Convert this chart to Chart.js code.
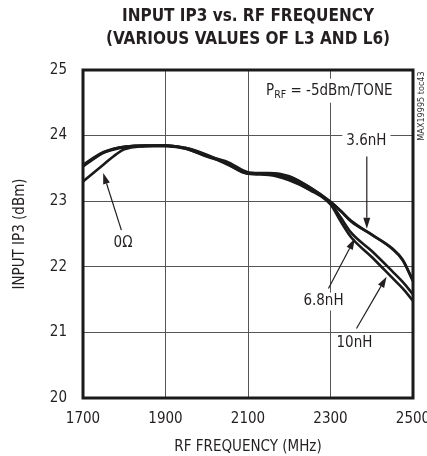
<!DOCTYPE html>
<html><head><meta charset="utf-8">
<script src="https://cdn.jsdelivr.net/npm/chart.js@4.4.1/dist/chart.umd.min.js"></script>
<style>html,body{margin:0;padding:0;background:#fff}</style>
</head><body>
<canvas id="c" width="427" height="456"></canvas>
<script>
// ---- data ----
const FREQ_MHZ = [1700,1725,1750,1775,1800,1850,1900,1950,2000,2050,2100,2150,2200,2250,2300,2325,2350,2400,2450,2475,2500];
const IP3_0OHM = [23.30,23.43,23.56,23.69,23.79,23.84,23.85,23.81,23.71,23.57,23.42,23.42,23.37,23.21,22.99,22.85,22.69,22.49,22.28,22.11,21.79];
const IP3_3_6NH = [23.55,23.66,23.75,23.80,23.83,23.85,23.85,23.81,23.70,23.56,23.43,23.43,23.38,23.21,22.99,22.85,22.70,22.49,22.27,22.10,21.78];
const IP3_6_8NH = [23.54,23.65,23.74,23.80,23.83,23.85,23.85,23.80,23.69,23.60,23.44,23.41,23.34,23.19,22.97,22.75,22.52,22.24,21.93,21.77,21.58];
const IP3_10NH = [23.53,23.64,23.74,23.79,23.82,23.84,23.84,23.80,23.68,23.58,23.42,23.40,23.32,23.17,22.95,22.69,22.45,22.15,21.83,21.67,21.48];
const X_TICKS = [1700,1900,2100,2300,2500];
const Y_TICKS = [20,21,22,23,24,25];
const SERIES_NAMES = ['0Ω','3.6nH','6.8nH','10nH'];

// ---- annotation labels (data coordinates) ----
const NOTES = [
  {text:'0Ω',   x:1797, y:22.36, from:[1793,22.56], to:[1749,23.43]},
  {text:'3.6nH',x:2387, y:23.91, from:[2388,23.68], to:[2388,22.58]},
  {text:'6.8nH',x:2283, y:21.47, from:[2295,21.67], to:[2359,22.43]},
  {text:'10nH', x:2358, y:20.83, from:[2363,21.06], to:[2436,21.85]}
];

const FONT = '"Liberation Sans Narrow","Arial Narrow","DejaVu Sans Condensed",sans-serif';
const INK = '#231f20';
const FS = 15;

function pts(arr){ return FREQ_MHZ.map((f,i)=>({x:f,y:arr[i]})); }

function drawArrow(ctx, x1, y1, x2, y2){
  ctx.beginPath(); ctx.moveTo(x1,y1);
  const ang = Math.atan2(y2-y1, x2-x1);
  const L = 11, W = 3.5;
  const bx = x2 - L*Math.cos(ang), by = y2 - L*Math.sin(ang);
  ctx.lineTo(bx,by); ctx.lineWidth = 1.2; ctx.strokeStyle = INK; ctx.stroke();
  ctx.beginPath();
  ctx.moveTo(x2,y2);
  ctx.lineTo(bx + W*Math.sin(ang), by - W*Math.cos(ang));
  ctx.lineTo(bx - W*Math.sin(ang), by + W*Math.cos(ang));
  ctx.closePath(); ctx.fillStyle = INK; ctx.fill();
}

const deco = {
  id:'deco',
  beforeDatasetsDraw(chart){
    const {ctx, scales:{x, y}} = chart;
    ctx.save();
    ctx.font = FS + 'px ' + FONT;
    ctx.textAlign = 'center'; ctx.textBaseline = 'middle';
    for (const n of NOTES){
      const px = x.getPixelForValue(n.x), py = y.getPixelForValue(n.y);
      const w = ctx.measureText(n.text).width;
      ctx.fillStyle = '#fff';
      ctx.fillRect(px - w/2 - 4, py - 9, w + 8, 18);
      ctx.fillStyle = INK;
      ctx.fillText(n.text, px, py);
      drawArrow(ctx, x.getPixelForValue(n.from[0]), y.getPixelForValue(n.from[1]),
                     x.getPixelForValue(n.to[0]), y.getPixelForValue(n.to[1]));
    }
    // P_RF = -5dBm/TONE
    const cx = x.getPixelForValue(2297), cy = y.getPixelForValue(24.70);
    const big = FS + 'px ' + FONT, small = '10.5px ' + FONT;
    ctx.textAlign = 'left'; ctx.textBaseline = 'alphabetic';
    ctx.font = big; const wP = ctx.measureText('P').width;
    const rest = ' = -5dBm/TONE'; const wR = ctx.measureText(rest).width;
    ctx.font = small; const wS = ctx.measureText('RF').width;
    const tot = wP + wS + wR;
    let sx = cx - tot/2; const base = cy + 5.5;
    ctx.fillStyle = '#fff'; ctx.fillRect(sx - 5, cy - 11, tot + 10, 24);
    ctx.fillStyle = INK;
    ctx.font = big; ctx.fillText('P', sx, base); sx += wP;
    ctx.font = small; ctx.fillText('RF', sx, base + 3); sx += wS;
    ctx.font = big; ctx.fillText(rest, sx, base);
    ctx.restore();
  },
  afterDatasetsDraw(chart){
    const {ctx, chartArea:a} = chart;
    ctx.save();
    ctx.strokeStyle = '#1a1a1a'; ctx.lineWidth = 3;
    ctx.strokeRect(a.left, a.top, a.right - a.left, a.bottom - a.top);
    // figure id
    ctx.translate(422, 106);
    ctx.rotate(-Math.PI/2);
    ctx.font = '9px ' + FONT; ctx.fillStyle = '#333';
    ctx.textAlign = 'center'; ctx.textBaseline = 'middle';
    ctx.fillText('MAX19995 toc43', 0, 0);
    ctx.restore();
  }
};

const lineDs = (label, arr) => ({
  label, data: pts(arr), borderColor: '#1a1a1a', borderWidth: 2.6,
  pointRadius: 0, cubicInterpolationMode: 'monotone', fill: false
});

new Chart(document.getElementById('c'), {
  type: 'line',
  data: { datasets: [
    lineDs(SERIES_NAMES[0], IP3_0OHM),
    lineDs(SERIES_NAMES[1], IP3_3_6NH),
    lineDs(SERIES_NAMES[2], IP3_6_8NH),
    lineDs(SERIES_NAMES[3], IP3_10NH)
  ]},
  options: {
    responsive: false, animation: false, devicePixelRatio: 1,
    layout: { padding: { left: 0, right: 14, top: 0, bottom: 0 } },
    plugins: {
      legend: { display: false }, tooltip: { enabled: false },
      title: {
        display: true, fullSize: false,
        text: ['INPUT IP3 vs. RF FREQUENCY', '(VARIOUS VALUES OF L3 AND L6)'],
        font: { family: FONT, size: 17, weight: 'bold', lineHeight: 1.35 },
        color: INK, padding: { top: 5.5, bottom: 18.6 }
      }
    },
    scales: {
      x: {
        type: 'linear', min: 1700, max: 2500,
        afterBuildTicks: s => { s.ticks = X_TICKS.map(v => ({value: v})); },
        afterFit: s => { s.height = 58; s.paddingLeft = 0; s.paddingRight = 0; },
        grid: { color: '#555', lineWidth: 1, drawTicks: false },
        border: { display: false },
        ticks: { padding: 12, color: INK, font: { family: FONT, size: FS }, maxRotation: 0, autoSkip: false,
                 callback: v => String(v) },
        title: { display: true, text: 'RF FREQUENCY (MHz)', color: INK, font: { family: FONT, size: FS }, padding: 0 }
      },
      y: {
        type: 'linear', min: 20, max: 25,
        afterBuildTicks: s => { s.ticks = Y_TICKS.map(v => ({value: v})); },
        afterFit: s => { s.width = 83; s.paddingTop = 0; s.paddingBottom = 0; },
        grid: { color: '#555', lineWidth: 1, drawTicks: false },
        border: { display: false },
        ticks: { padding: 16, color: INK, font: { family: FONT, size: FS }, callback: v => String(v) },
        title: { display: true, text: 'INPUT IP3 (dBm)', color: INK, font: { family: FONT, size: FS }, padding: { top: 11, bottom: 0 } }
      }
    }
  },
  plugins: [deco]
});
</script>
</body></html>
